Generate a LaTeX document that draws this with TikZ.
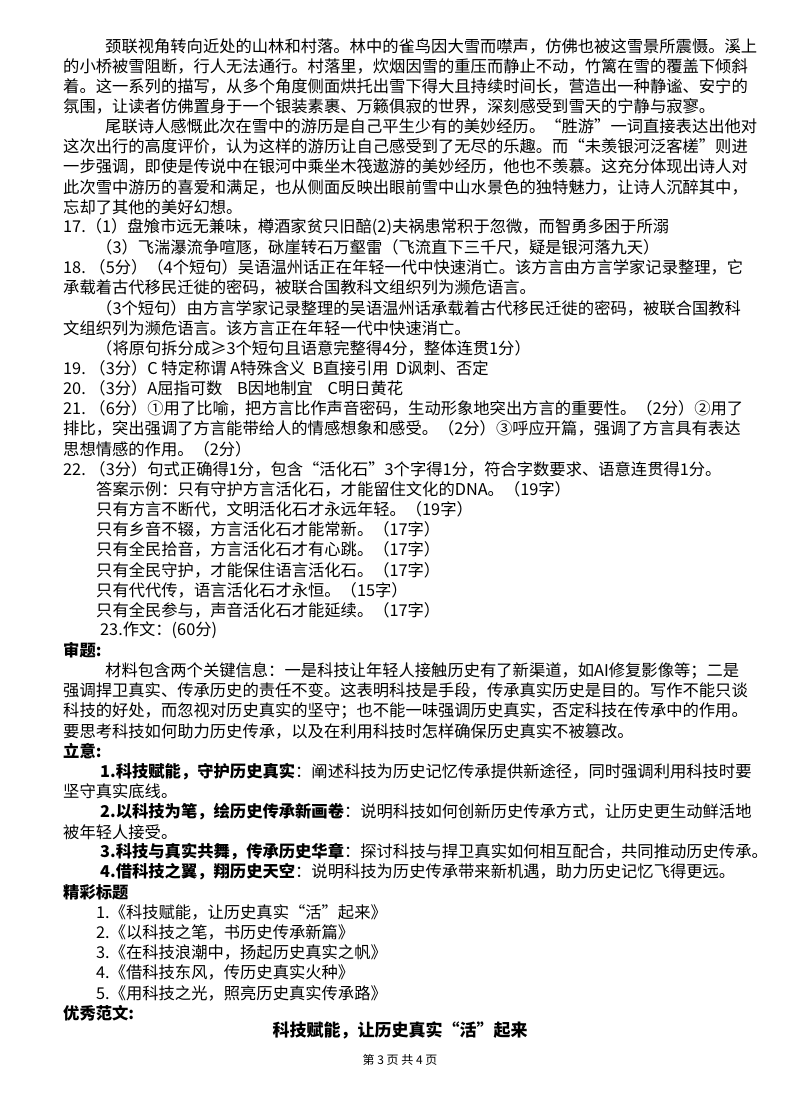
\documentclass[tikz,border=0pt]{standalone}
\usepackage{fontspec}
\setmainfont{Noto Sans CJK SC}
\XeTeXlinebreaklocale "zh"
\begin{document}
\begin{tikzpicture}[x=1pt,y=-1pt,txt/.style={anchor=west,inner sep=0pt,font=\fontsize{16.3}{20}\selectfont}]
\useasboundingbox (0,0) rectangle (800,1107);
\fill[white] (0,0) rectangle (800,1107);
\newcommand\myline[3]{\node[txt] (l#1) at (#2,{46+(#1-1)*20.15}) {#3};}
\myline{1}{105}{颈联视角转向近处的山林和村落。林中的雀鸟因大雪而噤声，仿佛也被这雪景所震慑。溪上}
\myline{2}{63}{的小桥被雪阻断，行人无法通行。村落里，炊烟因雪的重压而静止不动，竹篱在雪的覆盖下倾斜}
\myline{3}{63}{着。这一系列的描写，从多个角度侧面烘托出雪下得大且持续时间长，营造出一种静谧、安宁的}
\myline{4}{63}{氛围，让读者仿佛置身于一个银装素裹、万籁俱寂的世界，深刻感受到雪天的宁静与寂寥。}
\myline{5}{105}{尾联诗人感慨此次在雪中的游历是自己平生少有的美妙经历。“胜游”一词直接表达出他对}
\myline{6}{63}{这次出行的高度评价，认为这样的游历让自己感受到了无尽的乐趣。而“未羡银河泛客槎”则进}
\myline{7}{63}{一步强调，即使是传说中在银河中乘坐木筏遨游的美妙经历，他也不羡慕。这充分体现出诗人对}
\myline{8}{63}{此次雪中游历的喜爱和满足，也从侧面反映出眼前雪中山水景色的独特魅力，让诗人沉醉其中，}
\myline{9}{63}{忘却了其他的美好幻想。}
\myline{10}{63}{17.（1）盘飧市远无兼味，樽酒家贫只旧醅(2)夫祸患常积于忽微，而智勇多困于所溺}
\myline{11}{96}{（3）飞湍瀑流争喧豗，砯崖转石万壑雷（飞流直下三千尺，疑是银河落九天）}
\myline{12}{63}{18.\ （5分）（4个短句）吴语温州话正在年轻一代中快速消亡。该方言由方言学家记录整理，它}
\myline{13}{63}{承载着古代移民迁徙的密码，被联合国教科文组织列为濒危语言。}
\myline{14}{96}{（3个短句）由方言学家记录整理的吴语温州话承载着古代移民迁徙的密码，被联合国教科}
\myline{15}{63}{文组织列为濒危语言。该方言正在年轻一代中快速消亡。}
\myline{16}{96}{（将原句拆分成≥3个短句且语意完整得4分，整体连贯1分）}
\myline{17}{63}{19.\ （3分）C 特定称谓 A特殊含义\ \ B直接引用\ \ D讽刺、否定}
\myline{18}{63}{20.\ （3分）A屈指可数\ \ \ \ B因地制宜\ \ \ \ C明日黄花}
\myline{19}{63}{21.\ （6分）①用了比喻，把方言比作声音密码，生动形象地突出方言的重要性。（2分）②用了}
\myline{20}{63}{排比，突出强调了方言能带给人的情感想象和感受。（2分）③呼应开篇，强调了方言具有表达}
\myline{21}{63}{思想情感的作用。（2分）}
\myline{22}{63}{22.\ （3分）句式正确得1分，包含“活化石”3个字得1分，符合字数要求、语意连贯得1分。}
\myline{23}{96}{答案示例：只有守护方言活化石，才能留住文化的DNA。（19字）}
\myline{24}{96}{只有方言不断代，文明活化石才永远年轻。（19字）}
\myline{25}{96}{只有乡音不辍，方言活化石才能常新。（17字）}
\myline{26}{96}{只有全民拾音，方言活化石才有心跳。（17字）}
\myline{27}{96}{只有全民守护，才能保住语言活化石。（17字）}
\myline{28}{96}{只有代代传，语言活化石才永恒。（15字）}
\myline{29}{96}{只有全民参与，声音活化石才能延续。（17字）}
\myline{30}{100}{23.作文：(60分)}
\myline{31}{63}{\bfseries 审题:}
\myline{32}{105}{材料包含两个关键信息：一是科技让年轻人接触历史有了新渠道，如AI修复影像等；二是}
\myline{33}{63}{强调捍卫真实、传承历史的责任不变。这表明科技是手段，传承真实历史是目的。写作不能只谈}
\myline{34}{63}{科技的好处，而忽视对历史真实的坚守；也不能一味强调历史真实，否定科技在传承中的作用。}
\myline{35}{63}{要思考科技如何助力历史传承，以及在利用科技时怎样确保历史真实不被篡改。}
\myline{36}{63}{\bfseries 立意:}
\myline{37}{100}{{\bfseries 1.科技赋能，守护历史真实}：阐述科技为历史记忆传承提供新途径，同时强调利用科技时要}
\myline{38}{63}{坚守真实底线。}
\myline{39}{100}{{\bfseries 2.以科技为笔，绘历史传承新画卷}：说明科技如何创新历史传承方式，让历史更生动鲜活地}
\myline{40}{63}{被年轻人接受。}
\myline{41}{100}{{\bfseries 3.科技与真实共舞，传承历史华章}：探讨科技与捍卫真实如何相互配合，共同推动历史传承。}
\myline{42}{100}{{\bfseries 4.借科技之翼，翔历史天空}：说明科技为历史传承带来新机遇，助力历史记忆飞得更远。}
\myline{43}{63}{\bfseries 精彩标题}
\myline{44}{96}{1.《科技赋能，让历史真实“活”起来》}
\myline{45}{96}{2.《以科技之笔，书历史传承新篇》}
\myline{46}{96}{3.《在科技浪潮中，扬起历史真实之帆》}
\myline{47}{96}{4.《借科技东风，传历史真实火种》}
\myline{48}{96}{5.《用科技之光，照亮历史真实传承路》}
\myline{49}{63}{\bfseries 优秀范文:}
\node[txt,anchor=center,font=\fontsize{17}{20}\selectfont\bfseries] (title) at (400,1030) {科技赋能，让历史真实“活”起来};
\node[txt,anchor=center,font=\fontsize{12}{14}\selectfont] (foot) at (400,1060) {第 3 页 共 4 页};
\end{tikzpicture}
\end{document}
